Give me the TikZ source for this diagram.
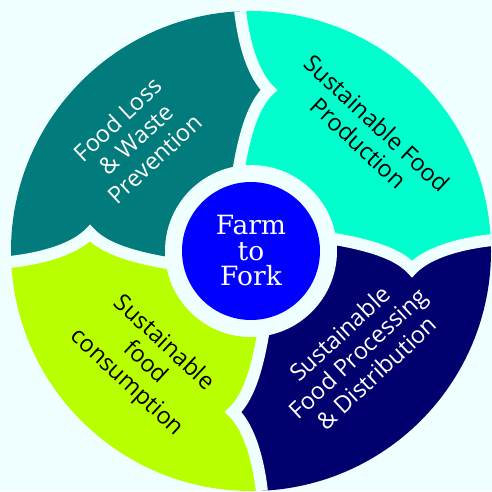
\documentclass[tikz,border=0pt]{standalone}
\usepackage{fontspec}
\setmainfont{Open Sans}
\newfontfamily\slabfont{DejaVu Serif}
\usetikzlibrary{positioning}
\definecolor{bgazure}{HTML}{F0FFFF}
\definecolor{segteal}{HTML}{027B7D}
\definecolor{segmint}{HTML}{00FFCC}
\definecolor{segnavy}{HTML}{00006F}
\definecolor{seglime}{HTML}{B8FF00}
\definecolor{hubblue}{HTML}{0000FF}
\tikzset{seglabel/.style={align=center, inner sep=0pt, font=\fontsize{23.5}{27}\selectfont},
    gapline/.style={draw=bgazure, line width=12pt, line join=miter}}

\begin{document}
\begin{tikzpicture}[x=1pt,y=1pt]
\fill[bgazure] (-251,-240) rectangle (241,251);
\useasboundingbox (-251,-240) rectangle (241,251);
\foreach \a in {0,90,180,270,360}{
  \begin{scope}[rotate=\a]
    \coordinate (d\a-in) at (78,13);
    \coordinate (d\a-c1) at (108,8);
    \coordinate (d\a-c2) at (145,0);
    \coordinate (d\a-tip) at (161,-18);
    \coordinate (d\a-c3) at (172,-6);
    \coordinate (d\a-c4) at (200,8);
    \coordinate (d\a-out) at (252,12);
  \end{scope}
}
\begin{scope}
\clip (0,0) circle[radius=240];
\foreach \a/\b/\col in {0/90/segmint, 90/180/segteal, 180/270/seglime, 270/360/segnavy}
  \fill[\col] (0,0) -- (d\a-in) .. controls (d\a-c1) and (d\a-c2) .. (d\a-tip)
    .. controls (d\a-c3) and (d\a-c4) .. (d\a-out) -- ({(\a+\b)/2}:400) -- (d\b-out)
    .. controls (d\b-c4) and (d\b-c3) .. (d\b-tip) .. controls (d\b-c2) and (d\b-c1) .. (d\b-in) -- cycle;
\foreach \a in {0,90,180,270}
  \draw[gapline] (d\a-in) .. controls (d\a-c1) and (d\a-c2) .. (d\a-tip)
    .. controls (d\a-c3) and (d\a-c4) .. (d\a-out);
\end{scope}
\fill[bgazure] (0,0) circle[radius=86];
\node[circle, fill=hubblue, minimum size=138pt, inner sep=0pt, align=center, text=white,
  font=\slabfont\fontsize{26.5}{25.5}\selectfont] (hub) at (0,0) {Farm\\to\\Fork};
\node[seglabel, rotate=-43] (production) at (117,118) {Sustainable Food\\Production};
\node[seglabel, rotate=43, text=white] (waste) at (-115,112) {Food Loss\\\& Waste\\Prevention};
\node[seglabel, rotate=43, text=white] (processing) at (107,-102) {Sustainable\\Food Processing\\\& Distribution};
\node[seglabel, rotate=-43] (consumption) at (-106,-112) {Sustainable\\food\\consumption};
\end{tikzpicture}
\end{document}
